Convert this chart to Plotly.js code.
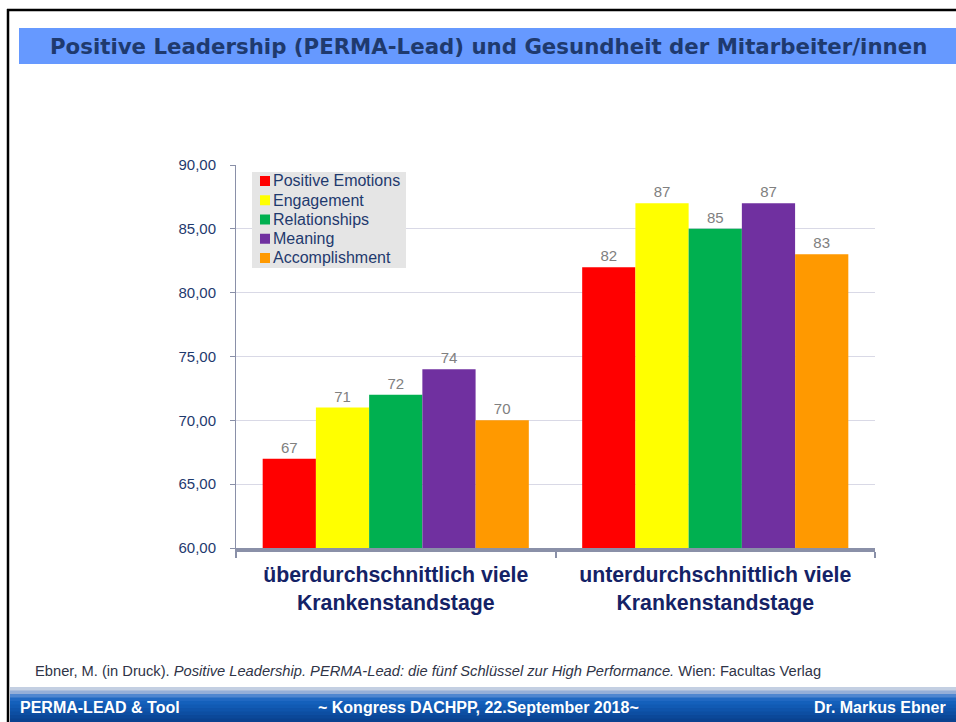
<!DOCTYPE html>
<html>
<head>
<meta charset="utf-8">
<script src="https://cdn.plot.ly/plotly-3.0.1.min.js"></script>
<style>html,body{margin:0;padding:0;background:#fff;}#chart{width:956px;height:722px;}</style>
</head>
<body>
<div id="chart"></div>
<script>
// ---- data ----
const categories = ["überdurchschnittlich viele<br>Krankenstandstage", "unterdurchschnittlich viele<br>Krankenstandstage"];
const seriesNames = ["Positive Emotions", "Engagement", "Relationships", "Meaning", "Accomplishment"];
const positiveEmotions = [67, 82];
const engagement = [71, 87];
const relationships = [72, 85];
const meaning = [74, 87];
const accomplishment = [70, 83];
const yTicks = [60, 65, 70, 75, 80, 85, 90];

const seriesValues = [positiveEmotions, engagement, relationships, meaning, accomplishment];
const colors = ["#FF0000", "#FFFF00", "#00B050", "#7030A0", "#FF9900"];

const W = 956, H = 722;
const px = v => v / W;
const py = v => 1 - v / H;

const traces = seriesNames.map((n, i) => ({
  type: "bar",
  name: n,
  x: categories,
  y: seriesValues[i],
  marker: {color: colors[i], line: {width: 0}},
  text: seriesValues[i].map(v => String(v)),
  textposition: "outside",
  cliponaxis: false,
  textfont: {family: "Liberation Sans, Arial", size: 15, color: "#808080"},
  hoverinfo: "skip",
  showlegend: false
}));

const shapes = [];
const annotations = [];
// footer gradient band
const bandTop = 687, bandBot = 722;
const grad = ["#C3CFE2", "#94AED8", "#4F86D0", "#2068C2", "#1460BB", "#115AB3", "#0F54AB", "#0D4EA2", "#0B4899", "#0A4290"];
const step = (bandBot - bandTop) / grad.length;
grad.forEach((c, i) => shapes.push({type: "rect", xref: "paper", yref: "paper", layer: "below",
  x0: px(10), x1: px(W), y0: py(bandTop + i * step), y1: py(bandTop + (i + 1) * step + 0.5),
  fillcolor: c, line: {width: 0}}));
// title band
shapes.push({type: "rect", xref: "paper", yref: "paper", layer: "below",
  x0: px(19), x1: px(W), y0: py(28), y1: py(64), fillcolor: "#6699FF", line: {width: 0}});
// frame lines
shapes.push({type: "line", xref: "paper", yref: "paper", x0: px(7), x1: px(W), y0: py(10), y1: py(10), line: {color: "#000", width: 2.5}});
shapes.push({type: "line", xref: "paper", yref: "paper", x0: px(8), x1: px(8), y0: py(9), y1: py(H), line: {color: "#000", width: 2.5}});

// legend (built from series names and colours)
const legX = 252, legY = 172, legW = 154, legH = 96, legRow = 19.25, legFirst = 181;
shapes.push({type: "rect", xref: "paper", yref: "paper", x0: px(legX), x1: px(legX + legW), y0: py(legY), y1: py(legY + legH),
  fillcolor: "#E5E5E5", line: {width: 0}});
seriesNames.forEach((n, i) => {
  const cy = legFirst + i * legRow;
  shapes.push({type: "rect", xref: "paper", yref: "paper", x0: px(260), x1: px(270), y0: py(cy - 5), y1: py(cy + 5),
    fillcolor: colors[i], line: {width: 0}});
  annotations.push({text: n, xref: "paper", yref: "paper", x: px(271), y: py(cy), xanchor: "left", yanchor: "middle",
    showarrow: false, font: {family: "Liberation Sans, Arial", size: 16, color: "#1F3A6E"}});
});

annotations.push(
  {text: "<b>Positive Leadership (PERMA-Lead) und Gesundheit der Mitarbeiter/innen</b>",
   xref: "paper", yref: "paper", x: px(488), y: py(46), xanchor: "center", yanchor: "middle", showarrow: false,
   font: {family: "DejaVu Sans", size: 21.3, color: "#1F3A6E"}},
  {text: "Ebner, M. (in Druck). <i>Positive Leadership. PERMA-Lead: die fünf Schlüssel zur High Performance.</i> Wien: Facultas Verlag",
   xref: "paper", yref: "paper", x: px(33), y: py(671), xanchor: "left", yanchor: "middle", showarrow: false,
   font: {family: "Liberation Sans, Arial", size: 14.7, color: "#2F3447"}},
  {text: "<b>PERMA-LEAD &amp; Tool</b>", xref: "paper", yref: "paper", x: px(18), y: py(707), xanchor: "left", yanchor: "middle",
   showarrow: false, font: {family: "Liberation Sans, Arial", size: 16, color: "#FFFFFF"}},
  {text: "<b>~ Kongress DACHPP, 22.September 2018~</b>", xref: "paper", yref: "paper", x: px(478), y: py(707), xanchor: "center", yanchor: "middle",
   showarrow: false, font: {family: "Liberation Sans, Arial", size: 16, color: "#FFFFFF"}},
  {text: "<b>Dr. Markus Ebner</b>", xref: "paper", yref: "paper", x: px(948), y: py(707), xanchor: "right", yanchor: "middle",
   showarrow: false, font: {family: "Liberation Sans, Arial", size: 16, color: "#FFFFFF"}}
);

const layout = {
  width: W, height: H,
  margin: {l: 0, r: 0, t: 0, b: 0},
  paper_bgcolor: "#FFFFFF", plot_bgcolor: "#FFFFFF",
  separators: ",.",
  barmode: "group",
  bargap: 0.167,
  bargroupgap: 0,
  showlegend: false,
  xaxis: {domain: [px(236), px(875)], anchor: "y",
    tickson: "boundaries", ticks: "outside", ticklen: 6, tickwidth: 2, tickcolor: "#8A90A8",
    showline: true, linecolor: "#8A90A8", linewidth: 3.5, showgrid: false,
    ticklabelstandoff: 5,
    tickfont: {family: "Liberation Sans, Arial", size: 21.3, color: "#142266", weight: "bold"},
    fixedrange: true},
  yaxis: {domain: [py(548), py(165)], anchor: "x", range: [60, 90],
    tickvals: yTicks, tickformat: ".2f",
    ticks: "outside", ticklen: 5, tickcolor: "#8A90A8", tickwidth: 1,
    showline: true, linecolor: "#8A90A8", linewidth: 1,
    ticklabelstandoff: 11,
    showgrid: true, gridcolor: "#D9D9E6", gridwidth: 1, zeroline: false,
    tickfont: {family: "Liberation Sans, Arial", size: 15, color: "#1F3A6E"},
    fixedrange: true},
  shapes: shapes,
  annotations: annotations
};

Plotly.newPlot("chart", traces, layout, {displayModeBar: false, staticPlot: true});
</script>
</body>
</html>
